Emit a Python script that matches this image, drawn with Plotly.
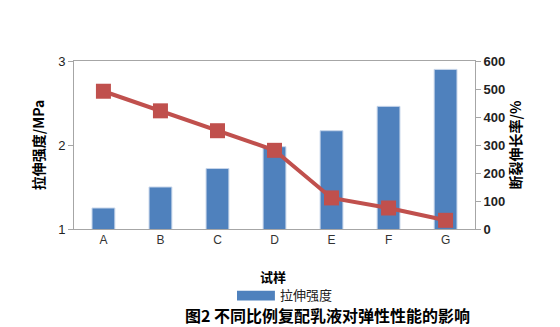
import plotly.graph_objects as go

# Samples and measured properties
samples = ["A", "B", "C", "D", "E", "F", "G"]
tensile_strength = [1.25, 1.50, 1.72, 1.98, 2.17, 2.46, 2.90]   # MPa
elongation = [492, 422, 351, 281, 111, 75, 31]                 # %

left_ticks = [1, 2, 3]
right_ticks = [0, 100, 200, 300, 400, 500, 600]

cjk = "Noto Sans CJK SC"
axis_gray = "#A6A6A6"
bar_color = "#4F81BD"
line_color = "#C0504D"

fig = go.Figure()

fig.add_trace(go.Bar(
    x=samples, y=tensile_strength, base=0,
    name="拉伸强度",
    marker=dict(color=bar_color, line=dict(color="#C6D5EA", width=1)),
    yaxis="y",
    showlegend=False,
))

fig.add_trace(go.Scatter(
    x=samples, y=elongation,
    name="断裂伸长率",
    mode="lines+markers",
    line=dict(color=line_color, width=4),
    marker=dict(symbol="square", size=15, color=line_color),
    yaxis="y2",
    showlegend=False,
))

fig.update_layout(
    width=560, height=327,
    margin=dict(l=74, r=85, t=61, b=98),
    paper_bgcolor="white", plot_bgcolor="white",
    bargap=0.6,
    font=dict(family=cjk, color="#000000"),
    xaxis=dict(
        showline=True, linecolor=axis_gray, linewidth=1, mirror=True,
        ticks="", tickfont=dict(size=12, family="Liberation Sans", color="#333"),
        showgrid=False,
    ),
    yaxis=dict(
        range=[1, 3], tickvals=left_ticks,
        showline=True, linecolor=axis_gray, linewidth=1,
        ticks="outside", ticklen=5, tickcolor=axis_gray,
        tickfont=dict(size=13, family="Liberation Sans", color="#222"),
        showgrid=False, zeroline=False,
        title=dict(text="拉伸强度/MPa", font=dict(size=14, family=cjk, weight="bold"), standoff=10),
    ),
    yaxis2=dict(
        range=[0, 600], tickvals=right_ticks,
        overlaying="y", side="right",
        showline=True, linecolor=axis_gray, linewidth=1,
        ticks="outside", ticklen=5, tickcolor=axis_gray,
        tickfont=dict(size=13, family="Liberation Sans", color="#222", weight="bold"),
        showgrid=False, zeroline=False,
        title=dict(text="断裂伸长率/%", font=dict(size=14, family=cjk, weight="bold"), standoff=4),
    ),
    # Legend key for the bar series, drawn as a wide swatch plus label
    shapes=[
        dict(type="rect", xref="paper", yref="paper",
             x0=0.4065, x1=0.501, y0=-0.425, y1=-0.368,
             fillcolor=bar_color, line=dict(width=0)),
    ],
    annotations=[
        dict(text="拉伸强度", xref="paper", yref="paper", x=0.509, y=-0.39,
             xanchor="left", yanchor="middle", showarrow=False,
             font=dict(size=13, family=cjk, color="#222")),
        dict(text="<b>试样</b>", xref="paper", yref="paper", x=0.4975, y=-0.28,
             xanchor="center", yanchor="middle", showarrow=False,
             font=dict(size=13, family=cjk)),
        dict(text="<b>图2 不同比例复配乳液对弹性性能的影响</b>", xref="paper", yref="paper",
             x=0.631, y=-0.512, xanchor="center", yanchor="middle", showarrow=False,
             font=dict(size=16, family=cjk)),
    ],
)

fig.write_html("out.html")
